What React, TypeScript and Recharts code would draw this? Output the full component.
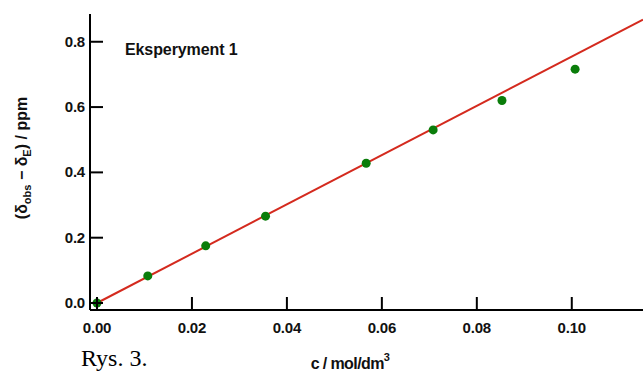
import { ScatterChart, Scatter, XAxis, YAxis } from "recharts";

// measured points
const concentration = [0, 0.0107, 0.0229, 0.0355, 0.0567, 0.0708, 0.0853, 0.1007];
const shiftDiff = [0, 0.083, 0.175, 0.266, 0.428, 0.53, 0.62, 0.716];

// fitted straight line (ends)
const fitX = [0, 0.115];
const fitY = [0, 0.868];

const xTicks = [0, 0.02, 0.04, 0.06, 0.08, 0.1];
const yTicks = [0, 0.2, 0.4, 0.6, 0.8];

const points = concentration.map((c, i) => ({ c, d: shiftDiff[i] }));
const fit = fitX.map((c, i) => ({ c, d: fitY[i] }));

const FONT = "'Liberation Sans', Arial, sans-serif";
const W = 643;
const H = 372;

function YTick(props: any) {
  const { x, y, payload } = props;
  return (
    <g>
      <line x1={x} y1={y} x2={x + 13} y2={y} stroke="#000" strokeWidth={2} />
      <text
        x={x - 5}
        y={y}
        dy={5}
        textAnchor="end"
        fontFamily={FONT}
        fontWeight="bold"
        fontSize={15}
        letterSpacing={-0.2}
        fill="#111"
      >
        {payload.value.toFixed(1)}
      </text>
    </g>
  );
}

function XTick(props: any) {
  const { x, y, payload } = props;
  return (
    <g>
      <line x1={x} y1={y} x2={x} y2={y - 13} stroke="#000" strokeWidth={2} />
      <text
        x={x}
        y={y + 23}
        textAnchor="middle"
        fontFamily={FONT}
        fontWeight="bold"
        fontSize={15}
        letterSpacing={-0.2}
        fill="#111"
      >
        {payload.value.toFixed(2)}
      </text>
    </g>
  );
}

const Dot = (props: any) => (
  <circle cx={props.cx} cy={props.cy} r={4.5} fill="#0a7d0a" />
);

export default function App() {
  return (
    <div style={{ position: "absolute", left: 0, top: 0, width: W, height: H, background: "#fff" }}>
      <ScatterChart width={W} height={H} margin={{ top: 14, right: 0, bottom: 0, left: 0 }}>
        <XAxis
          type="number"
          dataKey="c"
          domain={[-0.00147, 0.115]}
          ticks={xTicks}
          allowDataOverflow
          height={62}
          tickSize={0}
          tickMargin={0}
          tick={<XTick />}
          axisLine={{ stroke: "#000", strokeWidth: 2 }}
          tickLine={false}
        />
        <YAxis
          type="number"
          dataKey="d"
          domain={[-0.0214, 0.885]}
          ticks={yTicks}
          allowDataOverflow
          width={90}
          tickSize={0}
          tickMargin={0}
          tick={<YTick />}
          axisLine={{ stroke: "#000", strokeWidth: 2 }}
          tickLine={false}
        />
        <Scatter
          data={fit}
          line={{ stroke: "#d42a1e", strokeWidth: 2 }}
          shape={() => <g />}
          isAnimationActive={false}
        />
        <Scatter data={points} shape={<Dot />} isAnimationActive={false} />
      </ScatterChart>
      <svg
        width={W}
        height={H}
        style={{ position: "absolute", left: 0, top: 0, pointerEvents: "none" }}
      >
        <text x={125} y={55} fontFamily={FONT} fontWeight="bold" fontSize={16} letterSpacing={-0.1} fill="#111">
          Eksperyment 1
        </text>
        <text
          transform="translate(27,158) rotate(-90)"
          textAnchor="middle"
          fontFamily={FONT}
          fontWeight="bold"
          fontSize={16}
          fill="#111"
        >
          (δ<tspan fontSize={11} dy={4}>obs</tspan>
          <tspan dy={-4}> − δ</tspan>
          <tspan fontSize={11} dy={4}>E</tspan>
          <tspan dy={-4}>) / ppm</tspan>
        </text>
        <text x={350} y={369} textAnchor="middle" fontFamily={FONT} fontWeight="bold" fontSize={16} letterSpacing={-0.6} fill="#111">
          c / mol/dm<tspan fontSize={11} dy={-8}>3</tspan>
        </text>
        <text x={81} y={366} fontFamily="'Liberation Serif', 'Times New Roman', serif" fontSize={24} fill="#000">
          Rys. 3.
        </text>
      </svg>
    </div>
  );
}
